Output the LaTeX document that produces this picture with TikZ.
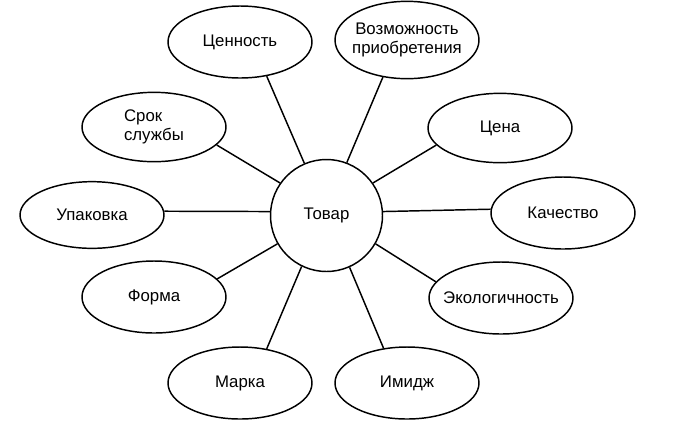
\documentclass[tikz,border=0pt]{standalone}
\usepackage{fontspec}
\setmainfont{Liberation Sans}
\usetikzlibrary{shapes.geometric}

\begin{document}
\begin{tikzpicture}[x=0.75pt,y=-0.75pt,line width=1.1pt,
    prop/.style={ellipse,draw,inner xsep=-7pt,inner ysep=0pt,minimum width=108pt,minimum height=54pt,font=\fontsize{12.6}{14}\selectfont},
    core/.style={circle,draw,inner sep=0pt,minimum size=84pt,font=\fontsize{12.6}{14}\selectfont}]
  \useasboundingbox (0,0) rectangle (674,437);
  \node[core] (tovar) at (326.5,215.5){Товар};

  \node[prop] (cennost) at (240,42){Ценность};
  \node[prop,minimum height=58pt,align=center] (vozm) at (407,40){Возможность\\приобретения};
  \node[prop,align=left,minimum height=52pt] (srok) at (154,127){Срок\\службы};
  \node[prop,minimum height=52pt] (cena) at (500,128){Цена};
  \node[prop,minimum height=50pt] (upak) at (92,215){Упаковка};
  \node[prop] (kach) at (563,213){Качество};
  \node[prop] (forma) at (154,297){Форма};
  \node[prop] (eko) at (501,298){Экологичность};
  \node[prop] (marka) at (240,383){Марка};
  \node[prop] (imidzh) at (407,383){Имидж};

  \draw (tovar.113)--(cennost.-52);
  \draw (tovar.69)--(vozm.237);
  \draw (tovar.145)--(srok.-16);
  \draw (tovar.35)--(cena.195);
  \draw (tovar.176)--(upak.3);
  \draw (tovar.4)--(kach.177);
  \draw (tovar.210)--(forma.16);
  \draw (tovar.-30)--(eko.166);
  \draw (tovar.244)--(marka.52);
  \draw (tovar.-66)--(imidzh.124);
\end{tikzpicture}
\end{document}
